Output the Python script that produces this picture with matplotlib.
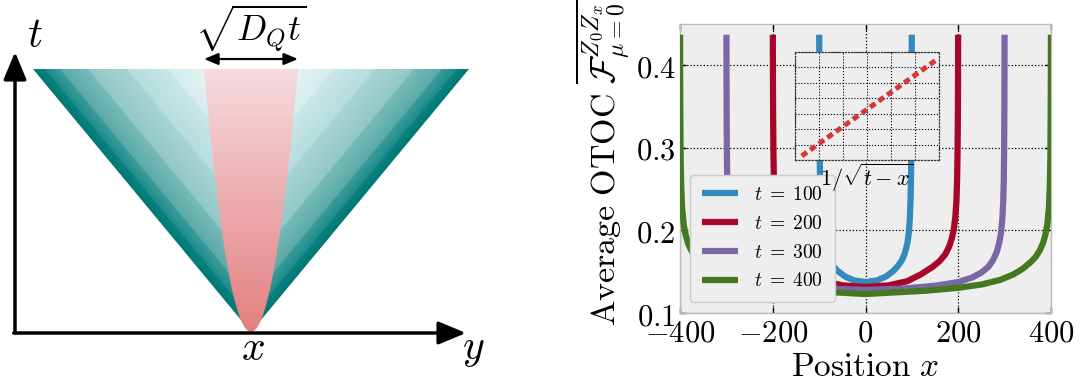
import numpy as np
import matplotlib
matplotlib.use("Agg")
import matplotlib.pyplot as plt
from matplotlib.patches import Polygon
from matplotlib.ticker import FixedLocator, FuncFormatter

plt.rcParams['mathtext.fontset'] = 'cm'
plt.rcParams['font.family'] = ['DejaVu Serif']

# ---------------- data ----------------
times = [100, 200, 300, 400]
legend_labels = [r'$t\;=\;100$', r'$t\;=\;200$', r'$t\;=\;300$', r'$t\;=\;400$']
line_colors = ['#348ABD', '#A60628', '#7A68A6', '#467821']

# distance |x| from the origin and average OTOC value (curves are symmetric)
dist_t100 = [0, 25, 45, 60, 70, 78, 84, 88, 91, 93.5, 95.5, 97, 98, 98.8, 99.3, 99.6, 99.8]
otoc_t100 = [0.1375, 0.1395, 0.1445, 0.1510, 0.1570, 0.1635, 0.1710, 0.1790, 0.1870,
             0.1980, 0.2130, 0.2350, 0.2600, 0.2950, 0.3400, 0.3900, 0.4370]
dist_t200 = [0, 50, 90, 120, 145, 160, 172, 180, 186, 190, 193.5, 196, 197.5, 198.5,
             199.2, 199.6, 199.8]
otoc_t200 = [0.1315, 0.1335, 0.1385, 0.1470, 0.1560, 0.1630, 0.1710, 0.1800, 0.1900,
             0.2000, 0.2150, 0.2350, 0.2600, 0.2950, 0.3400, 0.3900, 0.4370]
dist_t300 = [0, 80, 150, 200, 230, 250, 265, 275, 283, 288, 292, 295, 297, 298.2,
             298.9, 299.4, 299.7, 299.85]
otoc_t300 = [0.1280, 0.1295, 0.1330, 0.1375, 0.1430, 0.1490, 0.1560, 0.1640, 0.1740,
             0.1840, 0.1960, 0.2130, 0.2350, 0.2600, 0.2950, 0.3400, 0.3900, 0.4370]
dist_t400 = [0, 130, 200, 250, 290, 320, 340, 355, 367, 376, 383, 388, 392, 395.5,
             397.5, 398.7, 399.3, 399.7, 399.85]
otoc_t400 = [0.1230, 0.1270, 0.1305, 0.1345, 0.1400, 0.1470, 0.1540, 0.1610, 0.1680,
             0.1760, 0.1850, 0.1950, 0.2070, 0.2280, 0.2550, 0.2900, 0.3400, 0.3900, 0.4370]

dists = [dist_t100, dist_t200, dist_t300, dist_t400]
otocs = [otoc_t100, otoc_t200, otoc_t300, otoc_t400]

x_ticks = [-400, -200, 0, 200, 400]
y_ticks = [0.1, 0.2, 0.3, 0.4]

# inset: OTOC versus 1/sqrt(t-x) (straight line, arbitrary units)
inset_x = [0.28, 2.0, 4.0, 5.9]
inset_y = [0.26, 2.17, 4.39, 6.5]

# ---------------- figure ----------------
W, H = 1083, 385
fig = plt.figure(figsize=(W / 100, H / 100), dpi=100)

# ======== left panel: light-cone schematic (pixel coordinates) ========
axL = fig.add_axes([0, 0, 500 / W, 1])
axL.set_xlim(0, 500)
axL.set_ylim(385, 0)
axL.axis('off')

apex_x, apex_y = 251.0, 332.0
top_y = 69.0
half_top = 218.0         # half width of the cone at the top
pink_half_top = 47.0     # half width of diffusive region at the top
cone_h = apex_y - top_y

# teal cone image
x0, x1 = apex_x - half_top, apex_x + half_top
nx, ny = 900, 560
xs = np.linspace(x0, x1, nx)
ys = np.linspace(top_y, apex_y, ny)
XX, YY = np.meshgrid(xs, ys)
hh = apex_y - YY
Wh = half_top * hh / cone_h
s = Wh - np.abs(XX - apex_x)
s = np.clip(s, 0, None)
band_s = [0, 12, 12.01, 27, 27.01, 55, 55.01, 94, 94.01, 135, 135.01, 180]
band_r = [0, 10, 30, 60, 90, 120, 145, 168, 182, 202, 214, 234]
band_g = [120, 130, 142, 155, 170, 187, 200, 213, 221, 231, 237, 245]
band_b = [118, 128, 140, 153, 168, 185, 199, 212, 221, 231, 237, 245]
img = np.dstack([np.interp(s, band_s, band_r), np.interp(s, band_s, band_g),
                 np.interp(s, band_s, band_b)]) / 255.0
im = axL.imshow(img, extent=(x0, x1, apex_y, top_y), origin='upper',
                interpolation='bilinear', aspect='auto', zorder=1)
tri = Polygon([[x0, top_y], [x1, top_y], [apex_x, apex_y]], closed=True,
              facecolor='none', edgecolor='none')
axL.add_patch(tri)
im.set_clip_path(tri)

# pink diffusive region
frac = (apex_y - ys) / cone_h
pink_top = np.array([245, 220, 224]) / 255.0
pink_bot = np.array([229, 126, 126]) / 255.0
col = pink_top[None, :] * frac[:, None] + pink_bot[None, :] * (1 - frac[:, None])
pimg = np.repeat(col[:, None, :], 20, axis=1)
pim = axL.imshow(pimg, extent=(apex_x - pink_half_top, apex_x + pink_half_top, apex_y, top_y),
                 origin='upper', interpolation='bilinear', aspect='auto', zorder=2)
hs = np.linspace(0, 1, 200)
left_edge = np.column_stack([apex_x - pink_half_top * np.sqrt(hs), apex_y - hs * cone_h])
right_edge = np.column_stack([apex_x + pink_half_top * np.sqrt(hs[::-1]), apex_y - hs[::-1] * cone_h])
para = Polygon(np.vstack([left_edge, right_edge]), closed=True, facecolor='none', edgecolor='none')
axL.add_patch(para)
pim.set_clip_path(para)

# axes arrows
ax_origin = (15, 333)
axL.annotate('', xy=(15, 52), xytext=ax_origin,
             arrowprops=dict(arrowstyle='-|>,head_length=0.6,head_width=0.25', lw=2.5,
                             color='k', mutation_scale=28, shrinkA=0, shrinkB=0), zorder=5)
axL.annotate('', xy=(466, 333), xytext=(13.8, 333),
             arrowprops=dict(arrowstyle='-|>,head_length=0.6,head_width=0.25', lw=2.5,
                             color='k', mutation_scale=28, shrinkA=0, shrinkB=0), zorder=5)
axL.annotate('', xy=(apex_x + pink_half_top, 59), xytext=(apex_x - pink_half_top, 59),
             arrowprops=dict(arrowstyle='<|-|>,head_length=0.6,head_width=0.25', lw=1.6,
                             color='k', mutation_scale=14, shrinkA=0, shrinkB=0), zorder=5)
axL.text(35, 35, r'$t$', fontsize=30, ha='center', va='center')
axL.text(473, 348, r'$y$', fontsize=30, ha='center', va='center')
axL.text(253, 348, r'$x$', fontsize=30, ha='center', va='center')
axL.text(251, 3, r'$\sqrt{D_Q t}$', fontsize=25.5, ha='center', va='top')

# ======== right panel: OTOC curves ========
ax = fig.add_axes([680 / W, 1 - 313 / H, 371 / W, 289 / H])
ax.set_facecolor('#eeeeee')
for d, v, c, lab in zip(dists, otocs, line_colors, legend_labels):
    d = np.asarray(d, float)
    v = np.asarray(v, float)
    xx = np.concatenate([-d[::-1], d[1:]])
    yy = np.concatenate([v[::-1], v[1:]])
    ax.plot(xx, yy, color=c, lw=4.5, label=lab, solid_capstyle='butt', zorder=3)

ax.set_xlim(-400, 400)
ax.set_ylim(0.1, 0.45)
ax.xaxis.set_major_locator(FixedLocator(x_ticks))
ax.yaxis.set_major_locator(FixedLocator(y_ticks))
ax.xaxis.set_major_formatter(FuncFormatter(lambda v, p: r'$%d$' % v))
ax.yaxis.set_major_formatter(FuncFormatter(lambda v, p: r'$%.1f$' % v))
ax.tick_params(direction='in', top=True, right=True, length=4, width=1, color='k',
               labelsize=22, pad=3)
ax.grid(True, color='k', linestyle=':', lw=0.9, zorder=1)
ax.set_axisbelow(True)
for sp in ax.spines.values():
    sp.set_color('#bcbcbc')
    sp.set_linewidth(1)

ax.set_xlabel(r'$\mathrm{Position}\ x$', fontsize=24)
ax.xaxis.set_label_coords(0.5, -0.13)
ax.set_ylabel(r'$\mathrm{Average\ OTOC}\ \overline{\mathcal{F}^{Z_0Z_x}_{\mu=0}}$', fontsize=24.5)
ax.yaxis.set_label_coords(-0.131, 0.52)

leg = ax.legend(loc='lower left', bbox_to_anchor=(0.027, 0.038), borderaxespad=0,
                fontsize=14, handlelength=1.85, handletextpad=0.85, labelspacing=0.55,
                borderpad=0.6, frameon=True, fancybox=True, framealpha=1.0)
leg.get_frame().set_facecolor('#eeeeee')
leg.get_frame().set_edgecolor('#cccccc')
leg.set_zorder(10)

# inset
axi = fig.add_axes([795 / W, 1 - 160 / H, 144 / W, 108 / H])
axi.set_facecolor('#eeeeee')
axi.plot(inset_x, inset_y, color='#d23a3a', lw=3.6, linestyle=(0, (1.3, 0.8)),
         dash_capstyle='butt', zorder=3)
axi.set_xlim(0, 6)
axi.set_ylim(0, 7)
axi.xaxis.set_major_locator(FixedLocator(range(0, 7)))
axi.yaxis.set_major_locator(FixedLocator(range(0, 8)))
axi.tick_params(length=0, labelbottom=False, labelleft=False)
axi.grid(True, color='k', linestyle=':', lw=0.8)
for sp in axi.spines.values():
    sp.set_color('#333333')
    sp.set_linestyle(':')
    sp.set_linewidth(0.9)
axi.set_xlabel(r'$1/\sqrt{t-x}$', fontsize=16, labelpad=1)

fig.savefig('out.png', dpi=100)
